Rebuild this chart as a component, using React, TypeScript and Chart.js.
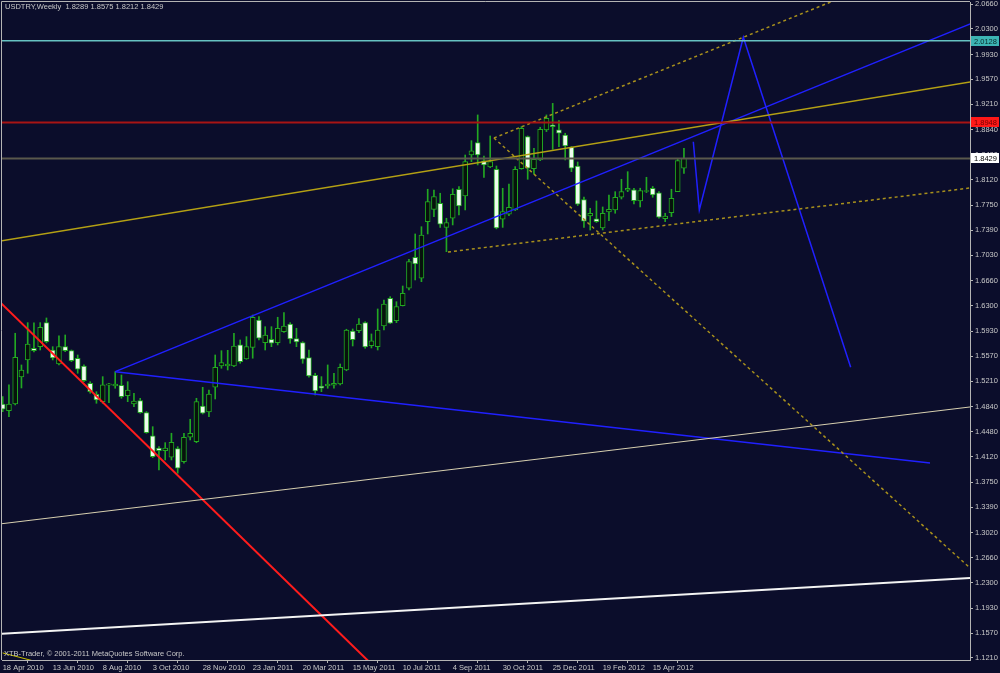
import React, { useEffect, useRef } from 'react';
import { Chart, registerables } from 'chart.js';

Chart.register(...registerables);

// ---- data ----
const xLabels = [
  '18 Apr 2010', '13 Jun 2010', '8 Aug 2010', '3 Oct 2010', '28 Nov 2010', '23 Jan 2011',
  '20 Mar 2011', '15 May 2011', '10 Jul 2011', '4 Sep 2011', '30 Oct 2011', '25 Dec 2011',
  '19 Feb 2012', '15 Apr 2012',
];

const yTicks = [
  2.066, 2.03, 1.993, 1.957, 1.921, 1.884, 1.848, 1.812, 1.775, 1.739, 1.703, 1.666, 1.63,
  1.593, 1.557, 1.521, 1.484, 1.448, 1.412, 1.375, 1.339, 1.302, 1.266, 1.23, 1.193, 1.157, 1.121,
];

const opens = [
  1.4880, 1.4783, 1.4880, 1.5270, 1.5516, 1.5685, 1.5708, 1.6055, 1.5660, 1.5458,
  1.5708, 1.5650, 1.5541, 1.5429, 1.5179, 1.5020, 1.4913, 1.5150, 1.5140, 1.5150,
  1.5000, 1.4880, 1.4928, 1.4754, 1.4418, 1.4244, 1.4205, 1.4110, 1.4234, 1.4046,
  1.4399, 1.4335, 1.4851, 1.4764, 1.5121, 1.5429, 1.5429, 1.5429, 1.5733, 1.5530,
  1.5699, 1.6094, 1.5766, 1.5815, 1.5766, 1.5925, 1.6036, 1.5824, 1.5766, 1.5549,
  1.5295, 1.5140, 1.5140, 1.5150, 1.5169, 1.5371, 1.5935, 1.5939, 1.6055, 1.5721,
  1.5708, 1.6007, 1.6408, 1.6084, 1.6301, 1.6552, 1.7000, 1.6697, 1.7514, 1.7693,
  1.7780, 1.7431, 1.7564, 1.7983, 1.7886, 1.8478, 1.8656, 1.8392, 1.8305, 1.8272,
  1.7549, 1.7622, 1.7684, 1.8282, 1.8745, 1.8282, 1.8406, 1.8840, 1.8912, 1.8840,
  1.8767, 1.8589, 1.8319, 1.7833, 1.7597, 1.7554, 1.7423, 1.7654, 1.7684, 1.7867,
  1.7969, 1.7973, 1.7814, 1.7952, 1.7998, 1.7933, 1.7558, 1.7644, 1.7948, 1.8289,
];
const highs = [
  1.4986, 1.5155, 1.5902, 1.5444, 1.6055, 1.6051, 1.6055, 1.6123, 1.5708, 1.5863,
  1.5877, 1.5660, 1.5588, 1.5444, 1.5202, 1.5058, 1.5275, 1.5179, 1.5347, 1.5299,
  1.5202, 1.5035, 1.4962, 1.4769, 1.4552, 1.4263, 1.4321, 1.4457, 1.4263, 1.4457,
  1.4659, 1.4962, 1.5121, 1.5082, 1.5588, 1.5650, 1.5655, 1.5902, 1.5805, 1.5853,
  1.6166, 1.6142, 1.5997, 1.5997, 1.6133, 1.6199, 1.6055, 1.5974, 1.5780, 1.5660,
  1.5324, 1.5275, 1.5444, 1.5324, 1.5458, 1.5960, 1.5964, 1.6113, 1.6069, 1.5892,
  1.6253, 1.6383, 1.6431, 1.6358, 1.6585, 1.6971, 1.7337, 1.7442, 1.7983, 1.7972,
  1.7925, 1.7564, 1.7990, 1.8023, 1.8478, 1.8685, 1.9057, 1.8464, 1.8753, 1.8319,
  1.7997, 1.8059, 1.8310, 1.8888, 1.8753, 1.8575, 1.8879, 1.9057, 1.9224, 1.8974,
  1.8792, 1.8599, 1.8377, 1.7871, 1.7708, 1.7814, 1.7727, 1.7900, 1.7948, 1.8127,
  1.8237, 1.7998, 1.7998, 1.8156, 1.8023, 1.7948, 1.7636, 1.7983, 1.8430, 1.8575,
];
const lows = [
  1.4769, 1.4697, 1.4866, 1.5111, 1.5324, 1.5632, 1.5660, 1.5762, 1.5516, 1.5444,
  1.5636, 1.5491, 1.5324, 1.5202, 1.5035, 1.4890, 1.4890, 1.4899, 1.5107, 1.4962,
  1.4913, 1.4841, 1.4746, 1.4457, 1.4105, 1.3926, 1.4071, 1.4071, 1.3879, 1.4023,
  1.4360, 1.4320, 1.4735, 1.4697, 1.4952, 1.5396, 1.5371, 1.5419, 1.5468, 1.5526,
  1.5541, 1.5805, 1.5660, 1.5708, 1.5733, 1.5915, 1.5757, 1.5708, 1.5468, 1.5266,
  1.5010, 1.5058, 1.5107, 1.5107, 1.5155, 1.5360, 1.5718, 1.5910, 1.5685, 1.5689,
  1.5660, 1.5949, 1.6040, 1.6055, 1.6296, 1.6528, 1.6672, 1.6647, 1.7337, 1.7588,
  1.7431, 1.7081, 1.7467, 1.7611, 1.7684, 1.8382, 1.8334, 1.8155, 1.8295, 1.7410,
  1.7432, 1.7600, 1.7674, 1.8272, 1.8127, 1.8200, 1.8396, 1.8816, 1.8560, 1.8599,
  1.8406, 1.8237, 1.7748, 1.7432, 1.7394, 1.7503, 1.7394, 1.7528, 1.7636, 1.7842,
  1.7948, 1.7770, 1.7727, 1.7935, 1.7867, 1.7564, 1.7515, 1.7588, 1.7948, 1.8212,
];
const closes = [
  1.4804, 1.4880, 1.5555, 1.5371, 1.5747, 1.5650, 1.5988, 1.5780, 1.5545, 1.5708,
  1.5650, 1.5506, 1.5382, 1.5217, 1.5058, 1.4938, 1.5155, 1.5170, 1.5169, 1.4986,
  1.5082, 1.4923, 1.4754, 1.4465, 1.4119, 1.4205, 1.4244, 1.4327, 1.3951, 1.4399,
  1.4457, 1.4913, 1.4746, 1.5024, 1.5410, 1.5477, 1.5458, 1.5718, 1.5491, 1.5708,
  1.6133, 1.5830, 1.5877, 1.5757, 1.5974, 1.6007, 1.5819, 1.5776, 1.5526, 1.5285,
  1.5068, 1.5107, 1.5169, 1.5179, 1.5410, 1.5949, 1.5809, 1.6036, 1.5704, 1.5791,
  1.5949, 1.6325, 1.6046, 1.6286, 1.6480, 1.6936, 1.6903, 1.7322, 1.7804, 1.7878,
  1.7478, 1.7501, 1.7908, 1.7741, 1.8382, 1.8540, 1.8478, 1.8334, 1.8382, 1.7423,
  1.7659, 1.7723, 1.8272, 1.8864, 1.8288, 1.8416, 1.8850, 1.9009, 1.8888, 1.8792,
  1.8608, 1.8288, 1.7767, 1.7520, 1.7636, 1.7515, 1.7636, 1.7693, 1.7867, 1.7948,
  1.7998, 1.7818, 1.7964, 1.7964, 1.7900, 1.7578, 1.7597, 1.7852, 1.8396, 1.8429,
];

// drawn objects: [week index, price]
const redTrend = [[-2, 1.649], [60, 1.1033]];
const blueUpper = [[18, 1.5347], [160, 2.0563]];
const blueLower = [[18, 1.5347], [148.37, 1.4027]];
const blueZigzag = [[110.5, 1.867], [111.46, 1.7683], [118.5, 2.0179], [135.68, 1.541]];
const oliveChannel = [[-1, 1.7227], [156, 1.9551]];
const dottedUp = [[78.6, 1.8724], [137.2, 2.0861]];
const dottedDown = [[78.6, 1.8724], [160, 1.2083]];
const dottedLow = [[71.25, 1.7076], [160, 1.8059]];
const beigeLine = [[-1, 1.314], [156, 1.485]];
const whiteLine = [[-1, 1.1553], [156, 1.2371]];
const yellowStub = [[0, 1.1282], [5, 1.1165]];
const levels = [2.0128, 1.8948, 1.8429];
const title = 'USDTRY,Weekly  1.8289 1.8575 1.8212 1.8429';
const footer = 'XTB-Trader, \u00a9 2001-2011 MetaQuotes Software Corp.';

// ---- styles ----
const BG = '#0b0d2b';
const AXIS = '#b4b4b4';
const TXT = '#c8c8c8';
const GREEN = '#22a822';
const BEAR_FILL = '#eefcee';
const BULL_FILL = '#07120c';
const FONT = 'Liberation Sans, Arial, sans-serif';
const X_MIN = -0.112;
const X_MAX = 154.77;
const Y_MIN = 1.118;
const Y_MAX = 2.0689;

const levelStyles = [
  { line: '#66c2c2', width: 1.5, box: '#3cb4b4', text: '#0a2a2a' },
  { line: '#a81414', width: 2, box: '#ff1818', text: '#700000' },
  { line: '#5a584c', width: 2, box: '#ffffff', text: '#000000' },
];

export default function App() {
  const ref = useRef<HTMLCanvasElement | null>(null);

  useEffect(() => {
    const canvas = ref.current;
    if (!canvas) return;
    const idx = opens.map((_, i) => i);

    const mkLine = (pts: number[][], color: string, width: number, dash: number[] = []) => ({
      type: 'line' as const,
      data: pts.map(([x, y]) => ({ x, y })),
      borderColor: color,
      borderWidth: width,
      borderDash: dash,
      pointRadius: 0,
      fill: false,
      tension: 0,
      order: 0,
      clip: 0,
    });

    const decor = {
      id: 'decor',
      beforeDraw(chart: any) {
        const { ctx, width, height } = chart;
        ctx.save();
        ctx.fillStyle = BG;
        ctx.fillRect(0, 0, width, height);
        ctx.restore();
      },
      afterDraw(chart: any) {
        const { ctx, chartArea: a, scales } = chart;
        const y = scales.y;
        ctx.save();
        ctx.strokeStyle = AXIS;
        ctx.lineWidth = 1;
        ctx.beginPath();
        ctx.moveTo(a.left - 0.5, a.bottom);
        ctx.lineTo(a.left - 0.5, a.top - 0.5);
        ctx.lineTo(a.right, a.top - 0.5);
        ctx.stroke();

        ctx.font = `7.5px ${FONT}`;
        ctx.fillStyle = TXT;
        ctx.textAlign = 'left';
        ctx.textBaseline = 'top';
        ctx.fillText(title, 5, 3);
        ctx.fillText(footer, 4, 650);

        levels.forEach((lv, k) => {
          const st = levelStyles[k];
          const py = y.getPixelForValue(lv);
          ctx.fillStyle = st.box;
          ctx.fillRect(a.right + 1, Math.round(py) - 5, 28, 10);
          ctx.fillStyle = st.text;
          ctx.textBaseline = 'middle';
          ctx.fillText(lv.toFixed(4), a.right + 4, Math.round(py) + 0.5);
        });
        ctx.restore();
      },
    };

    const chart = new Chart(canvas, {
      type: 'bar',
      data: {
        datasets: [
          ...levels.map((lv, k) =>
            mkLine([[X_MIN - 1, lv], [X_MAX + 1, lv]], levelStyles[k].line, levelStyles[k].width)),
          mkLine(whiteLine, '#f4f4f4', 2),
          mkLine(beigeLine, '#d8d0b0', 1),
          mkLine(oliveChannel, '#b4a014', 1.5),
          mkLine(dottedUp, '#a8901c', 1.5, [3, 3]),
          mkLine(dottedDown, '#a8901c', 1.5, [3, 3]),
          mkLine(dottedLow, '#a8901c', 1.5, [3, 3]),
          mkLine(yellowStub, '#c8c000', 1),
          mkLine(blueUpper, '#2020ff', 1.5),
          mkLine(blueLower, '#2020ff', 1.5),
          mkLine(blueZigzag, '#2020ff', 1.5),
          mkLine(redTrend, '#ff1c1c', 2),
          {
            type: 'bar' as const,
            data: idx.map((i) => ({
              x: i,
              y: [Math.min(opens[i], closes[i]), Math.max(opens[i], closes[i])],
            })) as any,
            backgroundColor: idx.map((i) => (closes[i] < opens[i] ? BEAR_FILL : BULL_FILL)),
            borderColor: GREEN,
            borderWidth: 1,
            borderSkipped: false,
            barThickness: 5,
            grouped: false,
            order: 1,
          },
          {
            type: 'bar' as const,
            data: idx.map((i) => ({ x: i, y: [lows[i], highs[i]] })) as any,
            backgroundColor: GREEN,
            borderWidth: 0,
            barThickness: 1,
            grouped: false,
            order: 2,
          },
        ] as any,
      },
      options: {
        animation: false,
        responsive: false,
        events: [],
        layout: { padding: { left: 2, top: 2, right: 0, bottom: 0 } },
        plugins: {
          legend: { display: false },
          tooltip: { enabled: false },
          title: { display: false },
        },
        scales: {
          x: {
            type: 'linear',
            position: 'bottom',
            min: X_MIN,
            max: X_MAX,
            offset: false,
            grid: { display: true, drawOnChartArea: false, drawTicks: true, tickLength: 3, color: AXIS },
            border: { display: true, color: AXIS, width: 1 },
            ticks: {
              autoSkip: false,
              maxRotation: 0,
              minRotation: 0,
              align: 'start',
              padding: 0,
              color: TXT,
              font: { family: FONT, size: 7.5 },
              callback: (v: any) => xLabels[Math.round(Number(v) / 8)] ?? '',
            },
            afterBuildTicks: (s: any) => {
              s.ticks = xLabels.map((_, k) => ({ value: k * 8 }));
            },
            afterFit: (s: any) => {
              s.height = 13;
              s.paddingLeft = 0;
              s.paddingRight = 0;
            },
          },
          y: {
            type: 'linear',
            position: 'right',
            min: Y_MIN,
            max: Y_MAX,
            grid: { display: true, drawOnChartArea: false, drawTicks: true, tickLength: 3, color: AXIS },
            border: { display: true, color: AXIS, width: 1 },
            ticks: {
              autoSkip: false,
              padding: 2,
              color: TXT,
              font: { family: FONT, size: 7.5 },
              callback: (v: any) => Number(v).toFixed(4),
            },
            afterBuildTicks: (s: any) => {
              s.ticks = yTicks.map((v) => ({ value: v }));
            },
            afterFit: (s: any) => {
              s.width = 30;
              s.paddingTop = 0;
              s.paddingBottom = 0;
            },
          },
        },
      } as any,
      plugins: [decor],
    });

    return () => chart.destroy();
  }, []);

  return (
    <div style={{ position: 'fixed', left: 0, top: 0, width: 1000, height: 673, background: BG }}>
      <canvas ref={ref} width={1000} height={673} style={{ display: 'block' }} />
    </div>
  );
}
